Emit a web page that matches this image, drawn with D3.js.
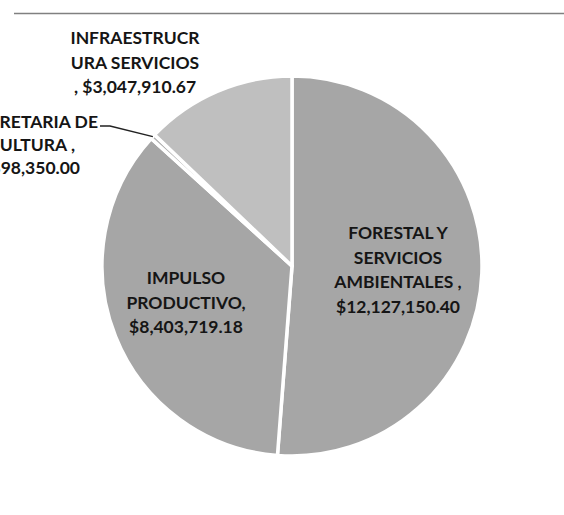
<!DOCTYPE html>
<html>
<head>
<meta charset="utf-8">
<script src="https://cdn.jsdelivr.net/npm/d3@7"></script>
<style>
  body { margin: 0; background: #fff; }
  text { font-family: Lato, "Open Sans", sans-serif; font-weight: bold; fill: #151515; }
</style>
</head>
<body>
<div id="chart"></div>
<script>
// program names and amounts (pesos)
var names = ["FORESTAL Y SERVICIOS AMBIENTALES", "IMPULSO PRODUCTIVO", "SECRETARIA DE AGRICULTURA", "INFRAESTRUCRURA SERVICIOS"]
var amounts = [12127150.40, 8403719.18, 98350.00, 3047910.67]
var labelLines = [
    ["FORESTAL Y", "SERVICIOS", "AMBIENTALES ,", "$12,127,150.40"],
    ["IMPULSO", "PRODUCTIVO,", "$8,403,719.18"],
    ["SECRETARIA DE", "AGRICULTURA ,", "$98,350.00"],
    ["INFRAESTRUCR", "URA SERVICIOS", ",  $3,047,910.67"]
]
var fills = ["#a6a6a6", "#a6a6a6", "#b3b3b3", "#bfbfbf"]

var width = 564,
    height = 515;
var cx = 292,
    cy = 266,
    radius = 190;

var svg = d3.select("#chart")
    .append("svg")
    .attr("width", width)
    .attr("height", height);

// thin rule at the top
svg.append("line")
    .attr("x1", 14).attr("x2", width)
    .attr("y1", 13.5).attr("y2", 13.5)
    .attr("stroke", "#808080")
    .attr("stroke-width", 1.5);

var data = names.map((n, i) => ({ name: n, value: amounts[i], lines: labelLines[i], fill: fills[i] }))

var pie = d3.pie()
    .sort(null)
    .value(d => d.value);

var arc = d3.arc()
    .innerRadius(0)
    .outerRadius(radius);

var arcs = pie(data);

var g = svg.append("g")
    .attr("transform", "translate(" + cx + "," + cy + ")");

g.selectAll("path")
    .data(arcs)
    .join("path")
    .attr("d", arc)
    .attr("fill", d => d.data.fill)
    .attr("stroke", "#fff")
    .attr("stroke-width", 3.5)
    .attr("stroke-linejoin", "round");

// label anchor positions relative to the pie centre
var lineH = 24.5;
var labelPos = [
    { x: 106, y: -33, anchor: "middle" },
    { x: -106, y: 12, anchor: "middle" },
    { x: -194, y: -144, anchor: "end" },
    { x: -157, y: -228, anchor: "middle" }
]

arcs.forEach(function(a, i) {
    var p = labelPos[i];
    var t = g.append("text")
        .attr("text-anchor", p.anchor)
        .attr("font-size", 17.5);
    a.data.lines.forEach(function(line, j) {
        var dx = 0;
        // the small slice's label is right aligned per line like the original text box
        if (i == 2) dx = [0, -23, -18][j];
        t.append("tspan")
            .attr("x", p.x + dx)
            .attr("y", p.y + j * (i == 2 ? 23 : lineH))
            .attr("dy", "0.36em")
            .text(line);
    });
});

// leader line for the small slice
var small = arcs[2];
var mid = (small.startAngle + small.endAngle) / 2;
var edge = [Math.sin(mid) * radius, -Math.cos(mid) * radius];
svg.append("path")
    .attr("d", d3.line()([[100, 126], [110, 126], [cx + edge[0], cy + edge[1]]]))
    .attr("fill", "none")
    .attr("stroke", "#222")
    .attr("stroke-width", 1.5);
</script>
</body>
</html>
